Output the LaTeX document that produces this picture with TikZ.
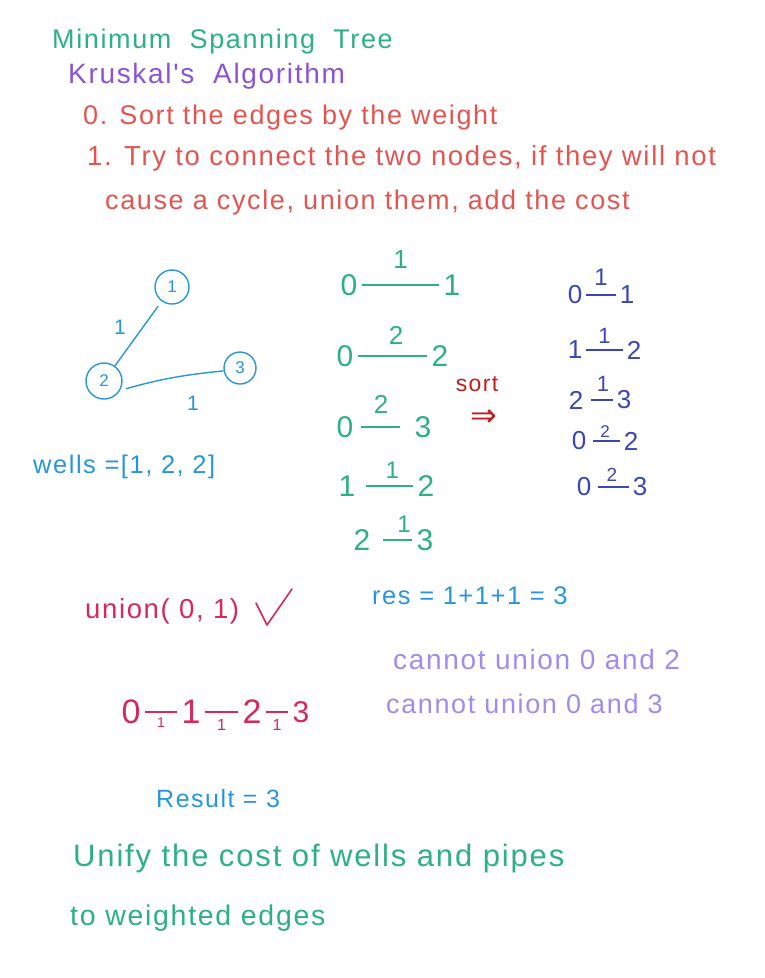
\documentclass[tikz,border=0pt]{standalone}
\usepackage{fontspec}
\setmainfont{Liberation Sans}
\newfontfamily\hand[LetterSpace=6]{Liberation Sans}
\newfontfamily\symb{DejaVu Sans}
\usepackage{xcolor}
\usetikzlibrary{positioning}

\definecolor{mstgreen}{RGB}{46,176,134}
\definecolor{algpurple}{RGB}{139,84,214}
\definecolor{stepred}{RGB}{228,84,80}
\definecolor{graphblue}{RGB}{40,150,220}
\definecolor{sortnavy}{RGB}{60,70,180}
\definecolor{sortred}{RGB}{190,30,30}
\definecolor{unionred}{RGB}{214,40,90}
\definecolor{notelav}{RGB}{160,140,240}

\begin{document}
\begin{tikzpicture}[
    x=1pt, y=-1pt,
    txt/.style={font=\hand\fontsize{#1pt}{#1pt}\selectfont, anchor=west, inner sep=0pt},
    dig/.style={font=\hand\fontsize{#1pt}{#1pt}\selectfont, inner sep=2pt},
    vtx/.style={draw, circle, line width=1.4pt, minimum size=#1pt, inner sep=0pt, font=\hand\fontsize{17pt}{17pt}\selectfont},
    edge/.style={line width=1.5pt, shorten <=2pt, shorten >=2pt},
    wt/.style={font=\hand\fontsize{#1pt}{#1pt}\selectfont, inner sep=1pt, above},
    wtb/.style={font=\hand\fontsize{#1pt}{#1pt}\selectfont, inner sep=1pt, below}
]
\useasboundingbox (0,0) rectangle (764,978);

% --- Heading and the two steps ---
\node[txt=27, mstgreen]  (title) at (52,42)  {Minimum\ \ Spanning\ \ Tree};
\node[txt=28, algpurple] (algo)  at (68,76)  {Kruskal's\ \ Algorithm};
\node[txt=27, stepred]   (st0)   at (83,118) {0. Sort the edges by the weight};
\node[txt=27.5, stepred] (st1)   at (87,158) {1. Try to connect the two nodes, if they will not};
\node[txt=27, stepred]   (st1b)  at (105,203) {cause a cycle, union them, add the cost};

% --- Small graph ---
\node[vtx=34, graphblue] (v1) at (172,287) {1};
\node[vtx=36, graphblue] (v2) at (104,381) {2};
\node[vtx=32, graphblue] (v3) at (240,368) {3};
\draw[graphblue, line width=1.4pt, shorten <=6pt] (v1) -- (v2);
\draw[graphblue, line width=1.4pt, shorten <=6pt] (v2.-30) to[bend left=5] (v3.190);
\node[dig=21, graphblue] (w12) at (120,327) {1};
\node[dig=21, graphblue] (w23) at (193,403) {1};
\node[txt=25.5, graphblue] (wells) at (33,467) {wells =[1, 2, 2]};

% --- Edge list (green) ---
\node[dig=30, mstgreen] (ga0) at (349,285) {0};
\node[dig=30, mstgreen] (ga1) at (452,285) {1};
\node[dig=30, mstgreen] (gb0) at (345,356) {0};
\node[dig=30, mstgreen] (gb2) at (440,356) {2};
\node[dig=30, mstgreen] (gc0) at (345,427) {0};
\node[dig=30, mstgreen] (gc3) at (423,427) {3};
\node[dig=30, mstgreen] (gd1) at (347,486) {1};
\node[dig=30, mstgreen] (gd2) at (426,486) {2};
\node[dig=30, mstgreen] (ge2) at (362,540) {2};
\node[dig=30, mstgreen] (ge3) at (425,540) {3};

\draw[edge, mstgreen] (ga0) -- node[wt=26, above=15pt] {1} (ga1);
\draw[edge, mstgreen] (gb0) -- node[wt=26, above=10pt, pos=0.55] {2} (gb2);
\draw[edge, mstgreen, shorten <=5pt, shorten >=12pt] (gc0) -- node[wt=26, above=12pt, pos=0.45] {2} (gc3);
\draw[edge, mstgreen, shorten <=8pt] (gd1) -- node[wt=24, above=6pt, pos=0.6] {1} (gd2);
\draw[edge, mstgreen, shorten <=10pt] (ge2) -- node[wt=24, above=6pt, pos=0.75] {1} (ge3);

% --- Sort arrow ---
\node[dig=23, sortred] (sortlbl) at (477,384) {sort};
\node[font=\symb\fontsize{32pt}{32pt}\selectfont, inner sep=0pt, sortred] (sortarr) at (484,418) {⇒};

% --- Sorted list (navy) ---
\node[dig=26, sortnavy] (na0) at (575,295) {0};
\node[dig=26, sortnavy] (na1) at (627,295) {1};
\node[dig=26, sortnavy] (nb1) at (575,350) {1};
\node[dig=26, sortnavy] (nb2) at (634,350) {2};
\node[dig=26, sortnavy] (nc2) at (576,400) {2};
\node[dig=26, sortnavy] (nc3) at (624,400) {3};
\node[dig=26, sortnavy] (nd0) at (579,441) {0};
\node[dig=26, sortnavy] (nd2) at (631,441) {2};
\node[dig=26, sortnavy] (ne0) at (584,487) {0};
\node[dig=26, sortnavy] (ne3) at (640,487) {3};

\draw[edge, sortnavy] (na0) -- node[wt=24, above=8pt] {1} (na1);
\draw[edge, sortnavy] (nb1) -- node[wt=22, above=5pt] {1} (nb2);
\draw[edge, sortnavy, shorten <=6pt] (nc2) -- node[wt=22, above=7pt, pos=0.6] {1} (nc3);
\draw[edge, sortnavy, shorten <=5pt] (nd0) -- node[wt=17, above=2pt] {2} (nd2);
\draw[edge, sortnavy, shorten <=5pt] (ne0) -- node[wt=19, above=4pt] {2} (ne3);

% --- Union steps ---
\node[txt=27.5, unionred] (uni) at (85,611) {union( 0, 1)};
\draw[unionred, line width=1.6pt, line cap=round, line join=round]
    (256,603) -- (267,625) -- (292,589);
\node[txt=25.5, graphblue] (res) at (372,596) {res = 1+1+1 = 3};
\node[txt=28, notelav] (no02) at (393,659) {cannot union 0 and 2};
\node[txt=27, notelav] (no03) at (386,704) {cannot union 0 and 3};

% chain 0-1-2-3
\node[dig=34, unionred] (c0) at (131,712) {0};
\node[dig=34, unionred] (c1) at (191,712) {1};
\node[dig=34, unionred] (c2) at (252,712) {2};
\node[dig=30, unionred] (c3) at (301,712) {3};
\draw[edge, unionred] (c0) -- node[wtb=14, below=4pt] {1} (c1);
\draw[edge, unionred] (c1) -- node[wtb=16, below=6pt] {1} (c2);
\draw[edge, unionred] (c2) -- node[wtb=16, below=6pt] {1} (c3);

\node[txt=25, graphblue] (result) at (156,799) {Result = 3};

% --- Closing note ---
\node[txt=31, mstgreen] (unify) at (73,858) {Unify the cost of wells and pipes};
\node[txt=28.5, mstgreen] (toedge) at (70,918) {to weighted edges};

\end{tikzpicture}
\end{document}
